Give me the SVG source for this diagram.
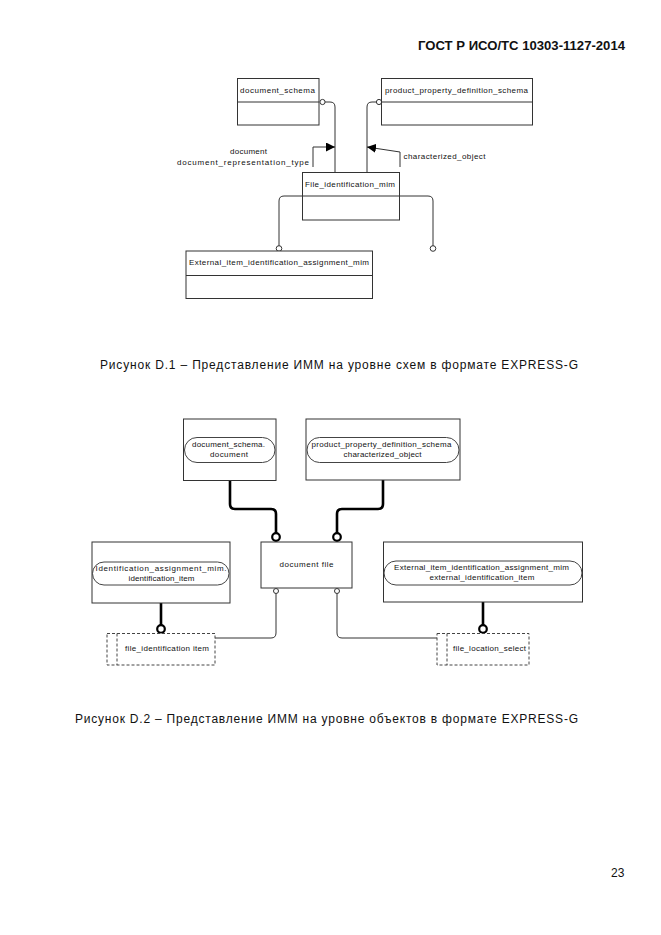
<svg xmlns="http://www.w3.org/2000/svg" width="661" height="935" viewBox="0 0 661 935">
<style>
text{font-family:"Liberation Sans",Arial,sans-serif;fill:#111}
.l{font-size:8px}
.c{font-size:12px}
.h{font-size:12px;font-weight:bold}
.box{fill:#fff;stroke:#333;stroke-width:1}
.pill{fill:none;stroke:#444;stroke-width:1}
.dash{fill:#fff;stroke:#444;stroke-width:1;stroke-dasharray:3 2}
.thin{fill:none;stroke:#333;stroke-width:1}
.thick{fill:none;stroke:#000;stroke-width:2.6}
.oc{fill:#fff;stroke:#333;stroke-width:1}
.oct{fill:#fff;stroke:#000;stroke-width:2.2}
</style>
<defs>
<marker id="ah" viewBox="0 0 10 10" refX="10" refY="5" markerWidth="9" markerHeight="9" markerUnits="userSpaceOnUse" orient="auto"><path d="M0,0 L10,5 L0,10 z" fill="#000"/></marker>
</defs>
<text class="h" x="418" y="50" textLength="207" lengthAdjust="spacingAndGlyphs">ГОСТ Р ИСО/ТС 10303-1127-2014</text>

<!-- Figure D.1 -->
<g id="connectors1">
<path class="thin" d="M325,102 H330 Q335,102 335,107 V172.5"/>
<path class="thin" d="M376.5,102 H372 Q367,102 367,107 V172.5"/>
<path class="thin" d="M313,167 V147 H335" marker-end="url(#ah)"/>
<path class="thin" d="M400,167 V152 L367,147" marker-end="url(#ah)"/>
<path class="thin" d="M279,246 V201 Q279,196 284,196 H428 Q433,196 433,201 V246"/>
<circle class="oc" cx="322.5" cy="102" r="2.6"/>
<circle class="oc" cx="379" cy="102" r="2.6"/>
<circle class="oc" cx="279" cy="248.5" r="2.8"/>
<circle class="oc" cx="433" cy="248.5" r="2.8"/>
</g>
<g id="document_schema1">
<rect class="box" x="237.5" y="78.5" width="81.5" height="46.5"/>
<line class="thin" x1="237.5" y1="102" x2="319" y2="102"/>
<text class="l" x="240" y="93" textLength="75" lengthAdjust="spacing">document_schema</text>
</g>
<g id="ppds1">
<rect class="box" x="381.5" y="78.5" width="151" height="46.5"/>
<line class="thin" x1="381.5" y1="102" x2="532.5" y2="102"/>
<text class="l" x="385" y="93" textLength="143" lengthAdjust="spacing">product_property_definition_schema</text>
</g>
<g id="labels1">
<text class="l" x="230" y="153.5" textLength="37" lengthAdjust="spacing">document</text>
<text class="l" x="177" y="165" textLength="132" lengthAdjust="spacing">document_representation_type</text>
<text class="l" x="403.5" y="159" textLength="82" lengthAdjust="spacing">characterized_object</text>
</g>
<g id="file_identification_mim">
<rect class="box" x="302.5" y="172.5" width="97" height="47.5" fill="none" style="fill:none"/>
<text class="l" x="305" y="187" textLength="90" lengthAdjust="spacing">File_identification_mim</text>
</g>
<g id="external_item1">
<rect class="box" x="186" y="251" width="186.5" height="47.5"/>
<line class="thin" x1="186" y1="275.5" x2="372.5" y2="275.5"/>
<text class="l" x="189" y="265" textLength="180" lengthAdjust="spacing">External_item_identification_assignment_mim</text>
</g>
<text class="c" x="100" y="369" textLength="478" lengthAdjust="spacing">Рисунок D.1 –  Представление ИММ на уровне схем в формате EXPRESS-G</text>

<!-- Figure D.2 -->
<g id="connectors2">
<path class="thick" d="M230,481 V504 Q230,509 235,509 H271 Q276,509 276,514 V533"/>
<path class="thick" d="M383,480 V504 Q383,509 378,509 H342 Q337,509 337,514 V533"/>
<path class="thick" d="M161,603 V625"/>
<path class="thick" d="M483,602 V625"/>
<path class="thin" d="M276,593.5 V633 Q276,638 271,638 H215"/>
<path class="thin" d="M337,593.5 V633 Q337,638 342,638 H437"/>
<circle class="oct" cx="276" cy="537" r="3.8"/>
<circle class="oct" cx="337" cy="537" r="3.8"/>
<circle class="oct" cx="161" cy="629" r="3.8"/>
<circle class="oct" cx="483" cy="629" r="3.8"/>
</g>
<g id="document_schema2">
<rect class="box" x="183.5" y="419" width="92.5" height="61.5"/>
<rect class="pill" x="184.5" y="437.5" width="90.5" height="25" rx="12.5"/>
<text class="l" x="192" y="447" textLength="73" lengthAdjust="spacing">document_schema.</text>
<text class="l" x="210" y="457" textLength="38" lengthAdjust="spacing">document</text>
</g>
<g id="ppds2">
<rect class="box" x="306" y="419" width="154" height="61"/>
<rect class="pill" x="307" y="437.5" width="152" height="25" rx="12.5"/>
<text class="l" x="311.5" y="447" textLength="140" lengthAdjust="spacing">product_property_definition_schema</text>
<text class="l" x="343.5" y="457" textLength="78" lengthAdjust="spacing">characterized_object</text>
</g>
<g id="document_file">
<rect class="box" x="261" y="542" width="91" height="46"/>
<text class="l" x="279.5" y="567" textLength="54" lengthAdjust="spacing">document  file</text>
<circle class="oc" cx="276" cy="591" r="2.5"/>
<circle class="oc" cx="337" cy="591" r="2.5"/>
</g>
<g id="identification_assignment_mim">
<rect class="box" x="92" y="542" width="138" height="61"/>
<rect class="pill" x="92.5" y="562" width="136.5" height="23" rx="11.5"/>
<text class="l" x="95.5" y="571" textLength="131" lengthAdjust="spacing">Identification_assignment_mim.</text>
<text class="l" x="128.5" y="580.5" textLength="66" lengthAdjust="spacing">identification_item</text>
</g>
<g id="external_item2">
<rect class="box" x="383.5" y="542" width="199" height="60"/>
<rect class="pill" x="384" y="561" width="198" height="24" rx="12"/>
<text class="l" x="394" y="570" textLength="175" lengthAdjust="spacing">External_item_identification_assignment_mim</text>
<text class="l" x="429.5" y="580" textLength="105" lengthAdjust="spacing">external_identification_item</text>
</g>
<g id="file_identification_item">
<rect class="dash" x="107" y="633.5" width="108" height="31.5"/>
<line class="dash" x1="117" y1="633.5" x2="117" y2="665"/>
<text class="l" x="125" y="651" textLength="84" lengthAdjust="spacing">file_identification item</text>
</g>
<g id="file_location_select">
<rect class="dash" x="437" y="633.5" width="92" height="31.5"/>
<line class="dash" x1="447" y1="633.5" x2="447" y2="665"/>
<text class="l" x="453" y="651" textLength="73" lengthAdjust="spacing">file_location_select</text>
</g>
<text class="c" x="75" y="723" textLength="503" lengthAdjust="spacing">Рисунок D.2 –  Представление ИММ на уровне объектов в формате EXPRESS-G</text>
<text class="c" x="611" y="877">23</text>
</svg>
